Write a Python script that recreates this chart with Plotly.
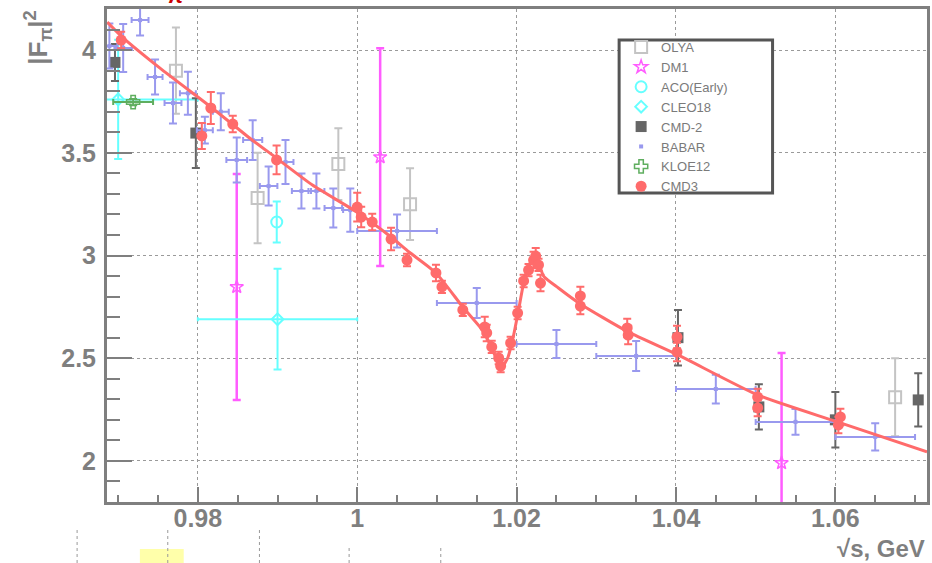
import plotly.graph_objects as go

# ---------------- data ----------------
olya_x = [0.97725, 0.9875, 0.99763, 1.00663, 1.0675]
olya_y = [3.90, 3.28, 3.445, 3.25, 2.31]
olya_ey = [0.21, 0.22, 0.175, 0.175, 0.19]

dm1_x = [0.98488, 1.00288, 1.05325]
dm1_y = [2.847, 3.479, 1.99]
dm1_ey = [0.55, 0.53, 0.535]

aco_x = [0.9899]
aco_y = [3.163]
aco_ey = [0.10]

cleo_x = [0.97, 0.99]
cleo_y = [3.76, 2.69]
cleo_ex = [0.01, 0.01]
cleo_ey = [0.29, 0.245]

cmd2_x = [0.9696, 0.97975, 1.04025, 1.0504, 1.06, 1.0704]
cmd2_y = [3.94, 3.596, 2.60, 2.263, 2.20, 2.297]
cmd2_ey = [0.09, 0.17, 0.135, 0.11, 0.135, 0.13]

babar_x = [0.9689, 0.97063, 0.97275, 0.97463, 0.97688, 0.97875, 0.98088, 0.98288,
           0.98488, 0.98688, 0.98888, 0.991, 0.993, 0.99488, 0.997, 0.99913,
           1.005, 1.015, 1.025, 1.035, 1.045, 1.055, 1.065]
babar_y = [4.02, 4.01, 4.146, 3.869, 3.742, 3.79, 3.61, 3.70,
           3.465, 3.562, 3.338, 3.455, 3.314, 3.314, 3.231, 3.221,
           3.119, 2.769, 2.569, 2.511, 2.35, 2.19, 2.117]
babar_ex = [0.001, 0.0011, 0.00106, 0.00094, 0.00106, 0.001, 0.001, 0.001,
            0.0013, 0.0012, 0.0011, 0.001, 0.0012, 0.001, 0.0011, 0.0009,
            0.005, 0.005, 0.005, 0.005, 0.005, 0.005, 0.005]
babar_ey = [0.11, 0.117, 0.075, 0.085, 0.10, 0.105, 0.065, 0.09,
            0.11, 0.097, 0.095, 0.107, 0.085, 0.085, 0.095, 0.105,
            0.08, 0.073, 0.068, 0.073, 0.07, 0.063, 0.066]

kloe_x = [0.97188]
kloe_y = [3.747]
kloe_ex = [0.0025]
kloe_ey = [0.015]

cmd3_x = [0.97038, 0.9805, 0.98163, 0.98438, 0.98988, 1.0, 1.0005, 1.00188, 1.00425,
          1.00625, 1.00988, 1.01063, 1.01325, 1.016, 1.01625, 1.01688, 1.01775, 1.018,
          1.01925, 1.02013, 1.02088, 1.0215, 1.02213, 1.0224, 1.02275, 1.023, 1.028,
          1.028, 1.03388, 1.034, 1.04013, 1.04013, 1.05025, 1.05025, 1.06063, 1.06038]
cmd3_y = [4.049, 3.582, 3.718, 3.64, 3.465, 3.236, 3.187, 3.163, 3.08,
          2.978, 2.915, 2.847, 2.735, 2.652, 2.623, 2.555, 2.501, 2.462,
          2.574, 2.72, 2.876, 2.929, 2.978, 2.997, 2.954, 2.866, 2.803,
          2.754, 2.647, 2.613, 2.603, 2.53, 2.311, 2.258, 2.214, 2.175]
cmd3_ey = [0.04, 0.063, 0.078, 0.04, 0.07, 0.07, 0.05, 0.04, 0.055,
           0.03, 0.04, 0.03, 0.03, 0.05, 0.04, 0.03, 0.03, 0.03,
           0.03, 0.03, 0.03, 0.03, 0.04, 0.04, 0.03, 0.04, 0.045,
           0.04, 0.045, 0.045, 0.055, 0.045, 0.04, 0.04, 0.04, 0.04]

fit_x = [0.96863, 0.97038, 0.97525, 0.98163, 0.9865, 0.98988, 0.99438, 1.00013, 1.00425,
         1.0065, 1.00988, 1.01325, 1.01588, 1.01738, 1.01813, 1.01888, 1.01963, 1.02025,
         1.02088, 1.0215, 1.02213, 1.02275, 1.02338, 1.02525, 1.028, 1.034, 1.04025,
         1.05025, 1.06025, 1.0715]
fit_y = [4.136, 4.068, 3.912, 3.723, 3.572, 3.474, 3.343, 3.207, 3.09,
         3.017, 2.915, 2.749, 2.628, 2.506, 2.457, 2.501, 2.613, 2.735,
         2.866, 2.949, 2.983, 2.964, 2.90, 2.842, 2.764, 2.628, 2.516,
         2.321, 2.19, 2.044]

x_tickvals = [0.98, 1.0, 1.02, 1.04, 1.06]
x_ticktext = ["0.98", "1", "1.02", "1.04", "1.06"]
y_tickvals = [2, 2.5, 3, 3.5, 4]
y_ticktext = ["2", "2.5", "3", "3.5", "4"]

# ---------------- figure ----------------
AX = "#7f7f7f"
FONT = "Liberation Sans"
fig = go.Figure()

def eb(arr, color, width=4, thick=2):
    return dict(type="data", array=arr, color=color, thickness=thick, width=width, visible=True)

fig.add_trace(go.Scatter(x=olya_x, y=olya_y, mode="markers", name="OLYA",
    marker=dict(symbol="square-open", size=12, color="#c4c4c4", line=dict(width=2)),
    error_y=eb(olya_ey, "#c4c4c4")))
fig.add_trace(go.Scatter(x=dm1_x, y=dm1_y, mode="markers", name="DM1",
    marker=dict(symbol="star-open", size=10, color="#ff5cff", line=dict(width=1.5)),
    error_y=eb(dm1_ey, "#ff5cff", thick=2.5)))
fig.add_trace(go.Scatter(x=aco_x, y=aco_y, mode="markers", name="ACO(Early)",
    marker=dict(symbol="circle-open", size=11, color="#66ffff", line=dict(width=2)),
    error_y=eb(aco_ey, "#66ffff")))
fig.add_trace(go.Scatter(x=cleo_x, y=cleo_y, mode="markers", name="CLEO18",
    marker=dict(symbol="diamond-open", size=9, color="#66ffff", line=dict(width=2)),
    error_x=eb(cleo_ex, "#66ffff", width=2), error_y=eb(cleo_ey, "#66ffff")))
fig.add_trace(go.Scatter(x=cmd2_x, y=cmd2_y, mode="markers", name="CMD-2",
    marker=dict(symbol="square", size=11, color="#666666"),
    error_y=eb(cmd2_ey, "#666666")))
fig.add_trace(go.Scatter(x=babar_x, y=babar_y, mode="markers", name="BABAR",
    marker=dict(symbol="square", size=4, color="#9999ee"),
    error_x=eb(babar_ex, "#9999ee", width=3), error_y=eb(babar_ey, "#9999ee")))
fig.add_trace(go.Scatter(x=kloe_x, y=kloe_y, mode="markers", name="KLOE12",
    marker=dict(symbol="cross-open", size=11, color="#5fae5f", line=dict(width=1.5)),
    error_x=eb(kloe_ex, "#5fae5f", width=3), error_y=eb(kloe_ey, "#5fae5f")))
fig.add_trace(go.Scatter(x=fit_x, y=fit_y, mode="lines", showlegend=False,
    line=dict(color="#ff6b6b", width=3, shape="spline", smoothing=0.6), hoverinfo="skip"))
fig.add_trace(go.Scatter(x=cmd3_x, y=cmd3_y, mode="markers", name="CMD3",
    marker=dict(symbol="circle", size=11, color="#ff6b6b"),
    error_y=eb(cmd3_ey, "#ff6b6b")))

axis_common = dict(
    showline=True, linecolor=AX, linewidth=3, mirror=True,
    ticks="inside", tickcolor=AX, tickwidth=2,
    showgrid=True, gridcolor="#9a9a9a", griddash="dot", gridwidth=1,
    zeroline=False, tickmode="array",
    tickfont=dict(family=FONT, size=25, color=AX, weight="bold"),
)

fig.update_xaxes(**axis_common, range=[0.9686, 1.0715],
    tickvals=x_tickvals, ticktext=x_ticktext, ticklen=15, ticklabelstandoff=-8,
    minor=dict(ticks="inside", ticklen=7, tickcolor=AX, tickwidth=2,
               tick0=0.98, dtick=0.005, showgrid=False))
fig.update_yaxes(**axis_common, range=[1.8, 4.2],
    tickvals=y_tickvals, ticktext=y_ticktext, ticklen=25, ticklabelstandoff=3,
    minor=dict(ticks="inside", ticklen=13, tickcolor=AX, tickwidth=2,
               tick0=2, dtick=0.1, showgrid=False))

L, R, T, B = 107, 2, 9, 61
W, H = 932, 563
pw, ph = W - L - R, H - T - B

def px(xp):
    return (xp - L) / pw

def py(yp):
    return 1 - (yp - T) / ph

annotations = [
    dict(text="|F<sub>π</sub>|<sup>2</sup>", textangle=-90, x=px(38), y=py(8),
         xanchor="center", yanchor="top", showarrow=False, xref="paper", yref="paper",
         font=dict(family=FONT, size=26, color=AX, weight="bold")),
    dict(text="√s, GeV", x=1.0, y=py(548), xanchor="right", yanchor="middle",
         showarrow=False, xref="paper", yref="paper",
         font=dict(family=FONT, size=24, color=AX, weight="bold")),
    dict(text="<i>π</i>", x=px(176), y=py(-4), xanchor="center", yanchor="middle",
         showarrow=False, xref="paper", yref="paper",
         font=dict(family=FONT, size=22, color="#cc0000", weight="bold")),
]

shapes = [
    dict(type="rect", xref="paper", yref="paper", x0=px(140), x1=px(184), y0=py(563), y1=py(549),
         fillcolor="#ffffaa", line=dict(width=0), layer="below"),
    # legend frame
    dict(type="rect", xref="paper", yref="paper", x0=px(621), x1=px(775), y0=py(193), y1=py(40),
         fillcolor="white", line=dict(color="#555555", width=3), layer="above"),
]
for xv, y0v in [(77, 530), (168, 530), (260, 530), (350, 547), (442, 547)]:
    shapes.append(dict(type="line", xref="paper", yref="paper", x0=px(xv), x1=px(xv),
                       y0=py(563), y1=py(y0v), line=dict(color="#999999", width=1, dash="dot")))

fig.update_layout(
    width=W, height=H,
    margin=dict(l=L, r=R, t=T, b=B),
    paper_bgcolor="white", plot_bgcolor="white",
    showlegend=True,
    legend=dict(x=px(623), y=py(32), xanchor="left", yanchor="top",
                bgcolor="rgba(0,0,0,0)", borderwidth=0,
                font=dict(family=FONT, size=13, color="#7a7a7a"),
                tracegroupgap=0),
    annotations=annotations, shapes=shapes,
)

fig.write_html("out.html")
